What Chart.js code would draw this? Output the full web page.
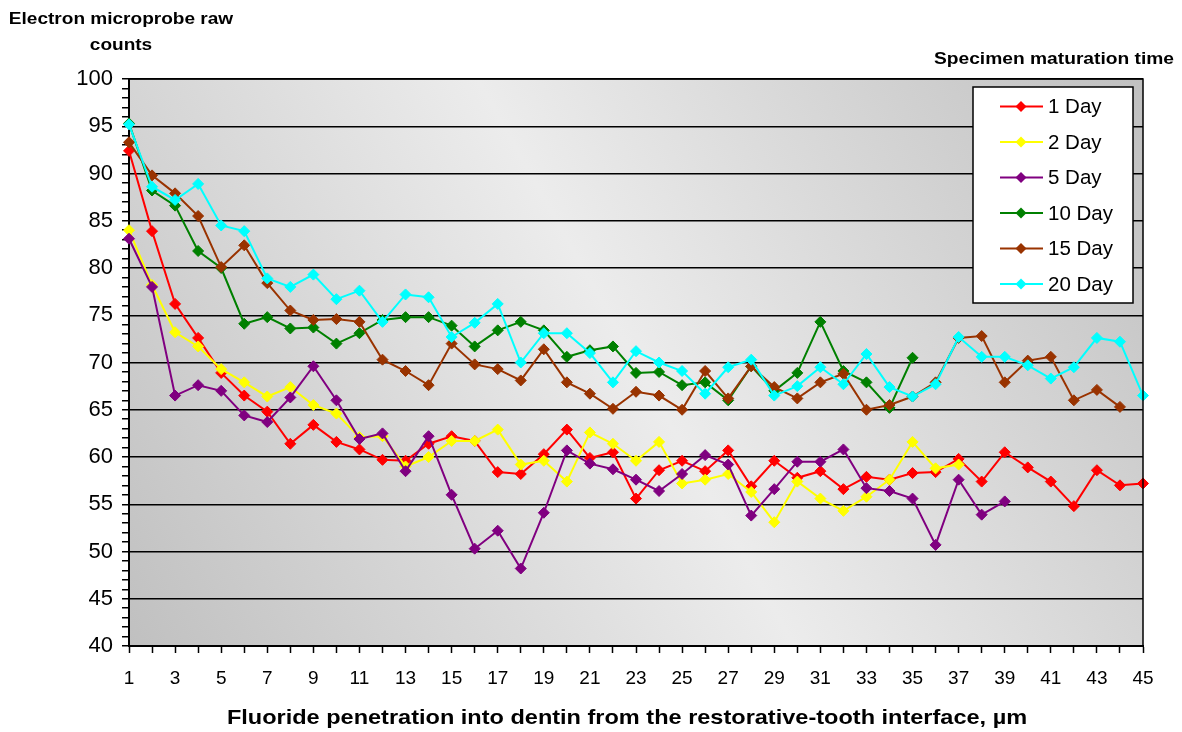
<!DOCTYPE html>
<html>
<head>
<meta charset="utf-8">
<title>Fluoride penetration into dentin</title>
<script src="https://cdn.jsdelivr.net/npm/chart.js@4.4.1/dist/chart.umd.min.js"></script>
<style>
  html, body { margin: 0; padding: 0; background: #fff; }
  #wrap { width: 1182px; height: 732px; }
</style>
</head>
<body>
<div id="wrap"><canvas id="fluorideChart" width="1182" height="732"></canvas></div>
<script>
// ---------- Data ----------
const depths = [1, 2, 3, 4, 5, 6, 7, 8, 9, 10, 11, 12, 13, 14, 15, 16, 17, 18, 19, 20, 21, 22, 23,
  24, 25, 26, 27, 28, 29, 30, 31, 32, 33, 34, 35, 36, 37, 38, 39, 40, 41, 42, 43, 44, 45];

const day1 = [92.4, 83.9, 76.2, 72.6, 68.9, 66.5, 64.8, 61.4, 63.4, 61.6, 60.8, 59.7, 59.6, 61.4, 62.2,
  61.7, 58.4, 58.2, 60.3, 62.9, 59.9, 60.5, 55.6, 58.6, 59.6, 58.5, 60.7, 56.9, 59.6, 57.8,
  58.5, 56.6, 57.9, 57.6, 58.3, 58.4, 59.8, 57.4, 60.5, 58.9, 57.4, 54.8, 58.6, 57.0, 57.2];
const day2 = [84.0, 78.2, 73.2, 71.7, 69.3, 67.9, 66.4, 67.4, 65.5, 64.6, 62.1, 62.2, 59.0, 60.0, 61.7,
  61.7, 62.9, 59.2, 59.6, 57.4, 62.6, 61.4, 59.6, 61.6, 57.2, 57.6, 58.2, 56.3, 53.1, 57.4,
  55.6, 54.3, 55.8, 57.6, 61.6, 58.8, 59.2];
const day5 = [83.1, 78.0, 66.5, 67.6, 67.0, 64.4, 63.7, 66.3, 69.6, 66.0, 61.9, 62.5, 58.5, 62.2, 56.0,
  50.3, 52.2, 48.2, 54.1, 60.7, 59.3, 58.7, 57.6, 56.4, 58.2, 60.2, 59.2, 53.8, 56.6, 59.5,
  59.5, 60.8, 56.7, 56.4, 55.6, 50.7, 57.6, 53.9, 55.3];
const day10 = [95.3, 88.2, 86.6, 81.8, 80.0, 74.1, 74.8, 73.6, 73.7, 72.0, 73.1, 74.5, 74.8, 74.8, 73.9,
  71.7, 73.4, 74.3, 73.4, 70.6, 71.3, 71.7, 68.9, 69.0, 67.6, 67.9, 66.0, 69.6, 67.0, 68.9,
  74.3, 69.1, 67.9, 65.2, 70.5];
const day15 = [93.3, 89.8, 87.9, 85.5, 80.1, 82.4, 78.4, 75.5, 74.5, 74.6, 74.3, 70.3, 69.1, 67.6, 72.0,
  69.8, 69.3, 68.1, 71.4, 67.9, 66.7, 65.1, 66.9, 66.5, 65.0, 69.1, 66.2, 69.6, 67.4, 66.2,
  67.9, 68.8, 65.0, 65.5, 66.4, 67.9, 72.6, 72.8, 67.9, 70.2, 70.6, 66.0, 67.1, 65.3];
const day20 = [95.2, 88.6, 87.2, 88.9, 84.5, 83.9, 78.9, 78.0, 79.3, 76.7, 77.6, 74.3, 77.2, 76.9, 72.7,
  74.2, 76.2, 70.0, 73.1, 73.1, 71.0, 67.9, 71.2, 70.0, 69.1, 66.7, 69.5, 70.3, 66.5, 67.5,
  69.5, 67.7, 70.9, 67.4, 66.4, 67.7, 72.7, 70.6, 70.6, 69.7, 68.3, 69.5, 72.6, 72.2, 66.5];

const seriesLabels = ["1 Day", "2 Day", "5 Day", "10 Day", "15 Day", "20 Day"];
const seriesValues = [day1, day2, day5, day10, day15, day20];
const seriesColors = ["#FF0000", "#FFFF00", "#800080", "#008000", "#993300", "#00FFFF"];

const yTitle = ["Electron microprobe raw", "counts"];
const xTitle = "Fluoride penetration into dentin from the restorative-tooth interface, \u00b5m";
const legendTitle = "Specimen maturation time";

const FONT = "'Liberation Sans', Arial, sans-serif";

// ---------- Helpers ----------
function diamond(ctx, x, y, r, color) {
  ctx.beginPath();
  ctx.moveTo(x, y - r);
  ctx.lineTo(x + r, y);
  ctx.lineTo(x, y + r);
  ctx.lineTo(x - r, y);
  ctx.closePath();
  ctx.fillStyle = color;
  ctx.fill();
}

// the original's titles are a little wider than plain Arial, so stretch them sideways
function wideText(ctx, text, x, y, sx) {
  ctx.save();
  ctx.translate(x, y);
  ctx.scale(sx, 1);
  ctx.fillText(text, 0, 0);
  ctx.restore();
}

// background, frame, titles and the boxed legend
const decorPlugin = {
  id: "decor",
  beforeDraw(chart) {
    const { ctx, chartArea: a } = chart;
    const g = ctx.createLinearGradient(a.left, a.bottom, a.right, a.top);
    g.addColorStop(0, "#c0c0c0");
    g.addColorStop(0.5, "#ececec");
    g.addColorStop(1, "#c0c0c0");
    ctx.save();
    ctx.fillStyle = g;
    ctx.fillRect(a.left, a.top, a.right - a.left, a.bottom - a.top);
    ctx.restore();
  },
  afterDraw(chart) {
    const { ctx, chartArea: a } = chart;
    ctx.save();

    // plot frame (top / right)
    ctx.strokeStyle = "#000";
    ctx.lineWidth = 1.5;
    ctx.beginPath();
    ctx.moveTo(a.left, a.top);
    ctx.lineTo(a.right, a.top);
    ctx.lineTo(a.right, a.bottom);
    ctx.stroke();

    // axis titles
    ctx.fillStyle = "#000";
    ctx.textAlign = "center";
    ctx.textBaseline = "alphabetic";
    ctx.font = "bold 16px " + FONT;
    wideText(ctx, yTitle[0], 121, 24, 1.19);
    wideText(ctx, yTitle[1], 121, 50, 1.19);

    ctx.font = "bold 21px " + FONT;
    ctx.textBaseline = "middle";
    wideText(ctx, xTitle, 627, 718, 1.12);

    // legend
    ctx.font = "bold 16px " + FONT;
    wideText(ctx, legendTitle, 1054, 60, 1.2);

    const box = { x: 973, y: 87, w: 160, h: 216 };
    ctx.fillStyle = "#fff";
    ctx.fillRect(box.x, box.y, box.w, box.h);
    ctx.lineWidth = 1.5;
    ctx.strokeStyle = "#000";
    ctx.strokeRect(box.x, box.y, box.w, box.h);

    ctx.font = "20.5px " + FONT;
    ctx.textAlign = "left";
    chart.data.datasets.forEach((ds, i) => {
      const cy = 106.5 + i * 35.5;
      ctx.strokeStyle = ds.borderColor;
      ctx.lineWidth = 2;
      ctx.beginPath();
      ctx.moveTo(1000, cy);
      ctx.lineTo(1043, cy);
      ctx.stroke();
      diamond(ctx, 1021, cy, 5.5, ds.borderColor);
      ctx.fillStyle = "#000";
      ctx.fillText(ds.label, 1048, cy + 1);
    });

    ctx.restore();
  }
};

// ---------- Chart ----------
const datasets = seriesLabels.map((label, i) => ({
  label: label,
  data: seriesValues[i],
  borderColor: seriesColors[i],
  backgroundColor: seriesColors[i],
  borderWidth: 2,
  pointStyle: "rectRot",
  pointRadius: 5.5,
  pointBorderWidth: 1,
  pointBackgroundColor: seriesColors[i],
  pointBorderColor: seriesColors[i],
  tension: 0,
  fill: false,
  order: seriesLabels.length - i // later series drawn on top, like the original
}));

new Chart(document.getElementById("fluorideChart"), {
  type: "line",
  data: { labels: depths, datasets: datasets },
  options: {
    responsive: false,
    animation: false,
    layout: { padding: { left: 0, top: 79, right: 39, bottom: 0 } },
    plugins: {
      legend: { display: false },
      tooltip: { enabled: false }
    },
    scales: {
      x: {
        type: "category",
        offset: false,
        afterFit: (scale) => { scale.height = 86; },
        border: { color: "#000", width: 2 },
        grid: {
          drawOnChartArea: false,
          drawTicks: true,
          tickLength: 7,
          tickColor: "#000",
          tickWidth: 1.5,
          offset: false
        },
        ticks: {
          autoSkip: false,
          maxRotation: 0,
          padding: 14,
          color: "#000",
          font: { family: FONT, size: 19 },
          callback: function (val, idx) { return idx % 2 === 0 ? this.getLabelForValue(val) : ""; }
        }
      },
      y: {
        min: 40,
        max: 100,
        afterFit: (scale) => { scale.width = 129; },
        border: { color: "#000", width: 2 },
        grid: {
          color: (ctx) => (ctx.tick && ctx.tick.value % 5 === 0 ? "#000" : "rgba(0,0,0,0)"),
          lineWidth: 1.5,
          tickLength: 7,
          tickColor: "#000",
          tickWidth: 1.5
        },
        ticks: {
          stepSize: 1,
          autoSkip: false,
          padding: 9,
          color: "#000",
          font: { family: FONT, size: 22 },
          callback: (v) => (v % 5 === 0 ? String(v) : "")
        }
      }
    }
  },
  plugins: [decorPlugin]
});
</script>
</body>
</html>
